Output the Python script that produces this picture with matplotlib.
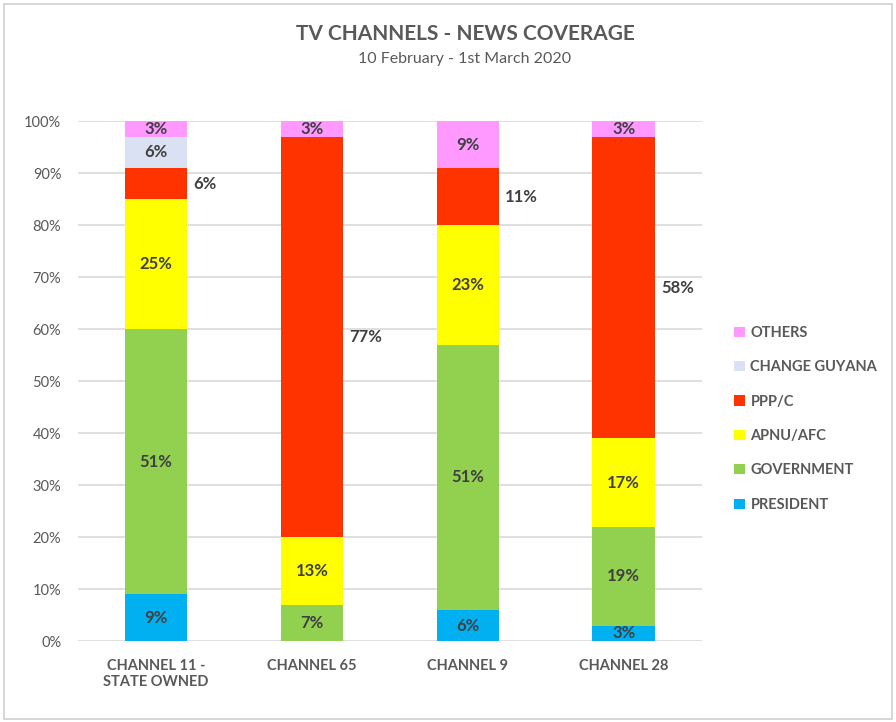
import numpy as np
import matplotlib.pyplot as plt
from matplotlib.patches import Rectangle

plt.rcParams['font.family'] = ['Lato', 'DejaVu Sans']

channels = ["CHANNEL 11 -\nSTATE OWNED", "CHANNEL 65", "CHANNEL 9", "CHANNEL 28"]
series = ["PRESIDENT", "GOVERNMENT", "APNU/AFC", "PPP/C", "CHANGE GUYANA", "OTHERS"]
president = [9, 0, 6, 3]
government = [51, 7, 51, 19]
apnu_afc = [25, 13, 23, 17]
ppp_c = [6, 77, 11, 58]
change_guyana = [6, 0, 0, 0]
others = [3, 3, 9, 3]
colors = ["#00B0F0", "#92D050", "#FFFF00", "#FF3300", "#D9E1F2", "#FF99FF"]

values = [president, government, apnu_afc, ppp_c, change_guyana, others]

fig = plt.figure(figsize=(8.96, 7.22), dpi=100)
ax = fig.add_axes([0.087, 0.112, 0.696, 0.72])
fig.patches.append(Rectangle((0.004, 0.004), 0.992, 0.99, transform=fig.transFigure,
                             fill=False, edgecolor="#D0D0D0", linewidth=1.2))

x = np.arange(len(channels))
width = 0.4
bottom = np.zeros(len(channels))
label_color = "#404040"
for name, vals, col in zip(series, values, colors):
    v = np.array(vals) / 100.0
    bars = ax.bar(x, v, width, bottom=bottom, color=col, label=name, zorder=2)
    for i, b in enumerate(bars):
        if vals[i] == 0:
            continue
        cy = bottom[i] + v[i] / 2
        if name == "PPP/C":
            ax.text(x[i] + width / 2 + 0.04, cy, f"{vals[i]}%", ha="left", va="center",
                    fontsize=12, fontweight="bold", color=label_color)
        else:
            ax.text(x[i], cy, f"{vals[i]}%", ha="center", va="center",
                    fontsize=12, fontweight="bold", color=label_color)
    bottom += v

ax.set_xlim(-0.5, 3.5)
ax.set_ylim(0, 1)
ax.set_yticks(np.arange(0, 1.01, 0.1))
ax.set_yticklabels([f"{int(round(t * 100))}%" for t in np.arange(0, 1.01, 0.1)],
                   fontsize=10.5, color="#595959")
ax.set_xticks(x)
ax.set_xticklabels(channels, fontsize=10.5, fontweight="bold", color="#595959")
ax.tick_params(axis="both", length=0)
ax.tick_params(axis="x", pad=13)
ax.tick_params(axis="y", pad=12)
ax.grid(axis="y", color="#D9D9D9", linewidth=1.2, zorder=0)
for s in ax.spines.values():
    s.set_visible(False)

handles, labels = ax.get_legend_handles_labels()
leg = fig.legend(handles[::-1], labels[::-1], loc="center left", bbox_to_anchor=(0.805, 0.42),
                 frameon=False, fontsize=10.5, handlelength=0.7, handleheight=0.7,
                 handletextpad=0.4, labelspacing=1.4)
for t in leg.get_texts():
    t.set_color("#595959")
    t.set_fontweight("bold")

fig.text(0.519, 0.953, "TV CHANNELS - NEWS COVERAGE", ha="center", va="center",
         fontsize=15, fontweight="bold", color="#595959")
fig.text(0.519, 0.918, "10 February - 1st March 2020", ha="center", va="center",
         fontsize=11.5, color="#595959")

fig.savefig("out.png", dpi=100)
